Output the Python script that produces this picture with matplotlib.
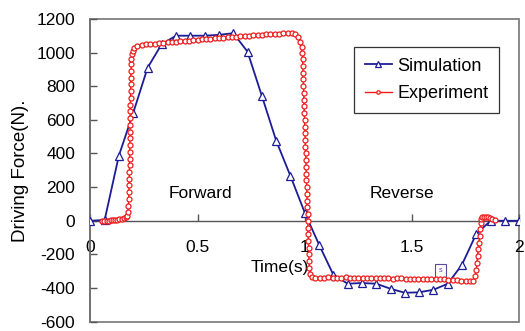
import numpy as np
import matplotlib.pyplot as plt
from matplotlib.patches import Rectangle

plt.rcParams['font.family'] = ['Liberation Sans', 'DejaVu Sans']
plt.rcParams['axes.unicode_minus'] = False

# Simulation (triangles)
sim_time = [0, 0.067, 0.133, 0.2, 0.267, 0.333, 0.4, 0.467, 0.533, 0.6,
            0.667, 0.733, 0.8, 0.867, 0.933, 1.0, 1.067, 1.133, 1.2, 1.267,
            1.333, 1.4, 1.467, 1.533, 1.6, 1.667, 1.733, 1.8, 1.867, 1.933, 2.0]
sim_force = [0, 5, 386, 641, 909, 1050, 1100, 1100, 1100, 1105,
             1115, 1005, 742, 475, 267, 48, -143, -320, -374, -370,
             -374, -404, -428, -425, -410, -374, -261, -77, 0, 0, 0]

# Experiment (circles)
exp_time = [
    # flat start
    0.056, 0.066, 0.076, 0.086, 0.096, 0.106, 0.116, 0.126, 0.136, 0.146, 0.156, 0.166, 0.172,
    # rise
    0.176, 0.178, 0.179, 0.180, 0.181, 0.182, 0.182, 0.183, 0.183, 0.184, 0.184, 0.185, 0.185,
    0.186, 0.186, 0.187, 0.187, 0.188, 0.188, 0.189, 0.189, 0.190, 0.191, 0.192, 0.194, 0.197,
    # top
    0.205, 0.22, 0.24, 0.26, 0.28, 0.30, 0.32, 0.34, 0.36, 0.38, 0.40, 0.42, 0.44, 0.46, 0.48,
    0.50, 0.52, 0.54, 0.56, 0.58, 0.60, 0.62, 0.64, 0.66, 0.68, 0.70, 0.72, 0.74, 0.76, 0.78,
    0.80, 0.82, 0.84, 0.86, 0.88, 0.90, 0.92, 0.94, 0.955, 0.968, 0.978, 0.985,
    # drop
    0.989, 0.990, 0.991, 0.992, 0.993, 0.994, 0.995, 0.996, 0.997, 0.998, 0.999, 1.000,
    1.001, 1.002, 1.003, 1.004, 1.005, 1.006, 1.007, 1.008, 1.009, 1.010, 1.011, 1.012,
    1.013, 1.014, 1.015, 1.016, 1.017, 1.018, 1.019, 1.020, 1.022, 1.026,
    # bottom
    1.035, 1.05, 1.07, 1.09, 1.11, 1.13, 1.15, 1.17, 1.19, 1.21, 1.23, 1.25, 1.27, 1.29,
    1.31, 1.33, 1.35, 1.37, 1.39, 1.41, 1.43, 1.45, 1.47, 1.49, 1.51, 1.53, 1.55, 1.57,
    1.59, 1.61, 1.63, 1.65, 1.67, 1.69, 1.71, 1.73, 1.75, 1.77, 1.785,
    # rise back
    1.795, 1.800, 1.803, 1.806, 1.809, 1.812, 1.815, 1.818, 1.821, 1.824, 1.828,
    1.835, 1.845, 1.855, 1.865, 1.875, 1.885,
]
exp_force = [
    0, 0, 0, 1, 2, 3, 5, 6, 8, 10, 14, 20, 28,
    50, 90, 130, 170, 210, 250, 290, 330, 370, 410, 450, 490, 530,
    570, 610, 650, 690, 730, 770, 810, 850, 890, 930, 960, 990, 1010,
    1025, 1040, 1045, 1048, 1050, 1052, 1055, 1058, 1060, 1062, 1064, 1066, 1068, 1070, 1072,
    1075, 1078, 1080, 1082, 1085, 1087, 1089, 1090, 1092, 1094, 1096, 1098, 1100, 1102, 1104,
    1106, 1108, 1110, 1110, 1112, 1114, 1115, 1114, 1108, 1090, 1065, 1035,
    1000, 960, 920, 880, 840, 800, 760, 720, 680, 640, 600, 560,
    520, 480, 440, 400, 360, 320, 280, 240, 200, 160, 120, 80,
    40, 0, -40, -80, -120, -160, -200, -240, -280, -315,
    -335, -338, -340, -338, -336, -338, -340, -339, -337, -338, -340, -341, -339, -338,
    -340, -342, -341, -340, -342, -344, -343, -342, -344, -346, -345, -344, -346, -347,
    -346, -345, -347, -349, -350, -352, -353, -355, -356, -358, -355,
    -330, -290, -250, -210, -170, -130, -90, -50, -15, 10, 22,
    25, 25, 22, 16, 10, 5,
]

y_ticks = [-600, -400, -200, 0, 200, 400, 600, 800, 1000, 1200]
x_ticks = [0, 0.5, 1, 1.5, 2]
x_tick_labels = ['0', '0.5', '1', '1.5', '2']

fig = plt.figure(figsize=(5.25, 3.31), dpi=100)
ax = fig.add_axes([0.172, 0.028, 0.817, 0.915])

ax.plot(sim_time, sim_force, color='#1c1c96', lw=1.3, marker='^', ms=6,
        mfc='white', mec='#1c1c96', mew=0.9, label='Simulation', zorder=3)
ax.plot(exp_time, exp_force, color='#ee1c1c', lw=1.0, marker='o', ms=3.6,
        mfc='white', mec='#ee1c1c', mew=0.9, label='Experiment', zorder=4)

ax.set_xlim(0, 2)
ax.set_ylim(-600, 1200)
ax.set_yticks(y_ticks)
ax.set_xticks(x_ticks)
ax.set_xticklabels(x_tick_labels)

# box and x axis through zero
for s in ['top', 'right']:
    ax.spines[s].set_visible(False)
ax.spines['left'].set_color('#707070')
ax.spines['left'].set_linewidth(1.2)
ax.spines['bottom'].set_position(('data', 0))
ax.spines['bottom'].set_color('#555555')
ax.spines['bottom'].set_linewidth(1.0)
ax.add_patch(Rectangle((0, 0), 1, 1, transform=ax.transAxes, fill=False,
                       ec='#808080', lw=1.3, clip_on=False, zorder=0))

ax.tick_params(axis='y', direction='in', length=5, width=1, color='#555555',
               labelsize=12.5, pad=11)
ax.tick_params(axis='x', direction='in', length=5, width=1, color='#555555',
               labelsize=12.5, pad=14)

ax.set_ylabel('Driving Force(N).', fontsize=13.5, labelpad=5)
ax.text(0.885, -275, 'Time(s)', fontsize=12.5, ha='center', va='center')
ax.text(0.515, 160, 'Forward', fontsize=12.5, ha='center', va='center')
ax.text(1.455, 160, 'Reverse', fontsize=12.5, ha='center', va='center')
ax.text(1.632, -297, 's', fontsize=5, ha='center', va='center', color='#6a3a8a',
        bbox=dict(boxstyle='square,pad=0.5', fc='white', ec='#5a4a9a', lw=0.8))

leg = ax.legend(loc='upper right', bbox_to_anchor=(0.953, 0.908), fontsize=13,
                frameon=True, fancybox=False, edgecolor='black',
                handlelength=1.5, handletextpad=0.3, borderpad=0.6,
                labelspacing=0.6, markerscale=0.7, borderaxespad=0)
leg.get_frame().set_linewidth(0.9)

fig.savefig('out.png', dpi=100)
